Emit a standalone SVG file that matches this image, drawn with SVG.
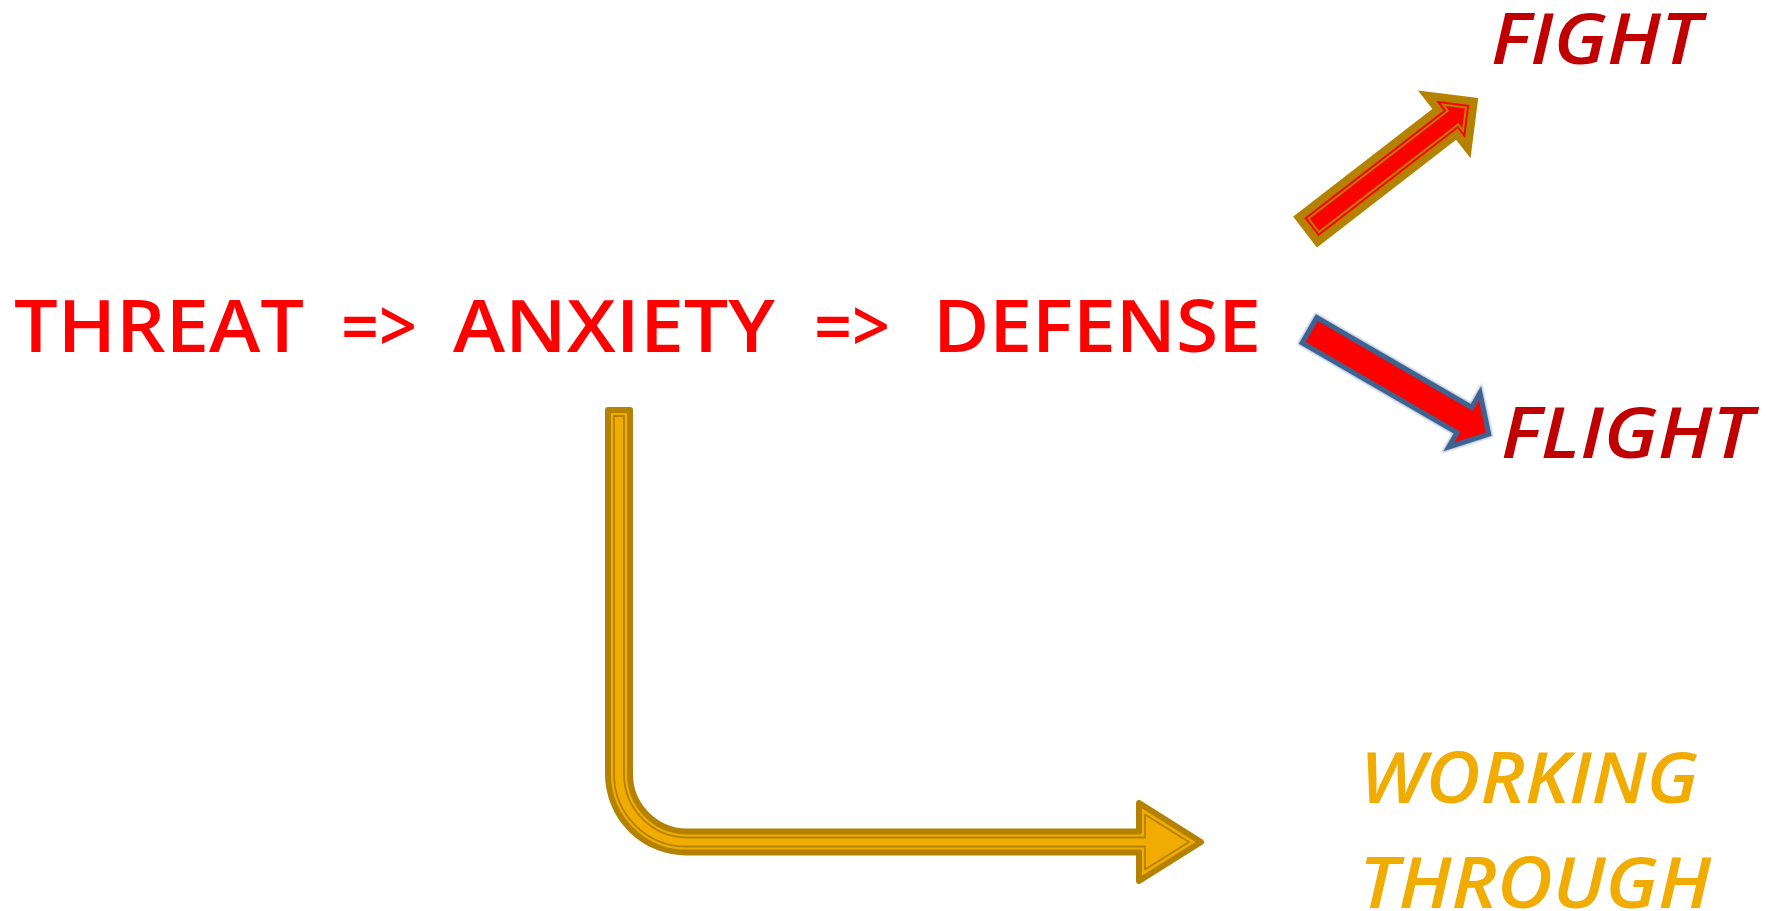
<svg xmlns="http://www.w3.org/2000/svg" width="1785" height="911" viewBox="0 0 1785 911">
<style>
.main{font-family:"Open Sans","Noto Sans","Liberation Sans",sans-serif;font-weight:600;font-size:73px;fill:#FF0000}
.side{font-family:"Open Sans","Liberation Sans",sans-serif;font-weight:600;font-style:italic;font-size:71px}
.red{fill:#C00000}
.gold{fill:#F0AC00}
</style>
<defs>
<filter id="glow" x="-10%" y="-20%" width="120%" height="140%">
<feGaussianBlur stdDeviation="0.8"/>
</filter>
</defs>
<rect width="1785" height="911" fill="#FFFFFF"/>
<g id="chain">
<text class="main" x="14" y="352" textLength="290" lengthAdjust="spacingAndGlyphs">THREAT</text>
<text class="main" x="341" y="352" textLength="76" lengthAdjust="spacingAndGlyphs">=&gt;</text>
<text class="main" x="453" y="352" textLength="322" lengthAdjust="spacingAndGlyphs">ANXIETY</text>
<text class="main" x="814" y="352" textLength="76" lengthAdjust="spacingAndGlyphs">=&gt;</text>
<text class="main" x="933" y="352" textLength="328" lengthAdjust="spacingAndGlyphs">DEFENSE</text>
</g>
<g id="fight">
<text class="side red" x="1491" y="63.5" textLength="210" lengthAdjust="spacingAndGlyphs">FIGHT</text>
</g>
<g id="flight">
<text class="side red" x="1501" y="458" textLength="252" lengthAdjust="spacingAndGlyphs">FLIGHT</text>
</g>
<g id="working-through">
<text class="side gold" x="1360" y="802.5" textLength="338" lengthAdjust="spacingAndGlyphs">WORKING</text>
<text class="side gold" x="1359" y="907.5" textLength="352" lengthAdjust="spacingAndGlyphs">THROUGH</text>
</g>
<g id="connectors">
<g id="arrow-fight" transform="translate(1305,232) rotate(-37.7)">
<polygon points="4,-15.5 180,-15.5 180,-33.3 213.3,0 180,33.3 180,15.5 4,15.5" fill="#FF0000" stroke="#B58100" stroke-width="8" stroke-linejoin="miter"/>
<polygon points="11,-8.5 187,-8.5 187,-16.4 203.4,0 187,16.4 187,8.5 11,8.5" fill="none" stroke="#B58100" stroke-width="2" stroke-linejoin="miter"/>
</g>
<g id="arrow-flight" transform="translate(1307.4,329) rotate(30.1)">
<polygon points="2.5,-14.5 181.5,-14.5 181.5,-31 209.5,0 181.5,31 181.5,14.5 2.5,14.5" fill="none" stroke="#5A7FA8" stroke-width="7" stroke-linejoin="miter" filter="url(#glow)" opacity="0.6"/>
<polygon points="2.5,-14.5 181.5,-14.5 181.5,-31 209.5,0 181.5,31 181.5,14.5 2.5,14.5" fill="#FF0000" stroke="#3F6390" stroke-width="5" stroke-linejoin="miter"/>
</g>
<g id="arrow-working">
<path d="M608,410 L608,774 A78.5,78.5 0 0 0 686.5,852.5 L1139,852.5 L1139,881 L1201,842 L1139,803 L1139,831.5 L686.5,831.5 A57.5,57.5 0 0 1 630,774 L630,410 Z" fill="#F0AC00" stroke="#B58100" stroke-width="6" stroke-linejoin="round"/>
<path d="M614,416 L614,774 A72.5,72.5 0 0 0 686.5,846.5 L1145,846.5 L1145,869.5 L1189,842 L1145,814.5 L1145,837.5 L686.5,837.5 A63.5,63.5 0 0 1 624,774 L624,416 Z" fill="none" stroke="#B58100" stroke-width="1.8" stroke-linejoin="round"/>
</g>
</g>
</svg>
